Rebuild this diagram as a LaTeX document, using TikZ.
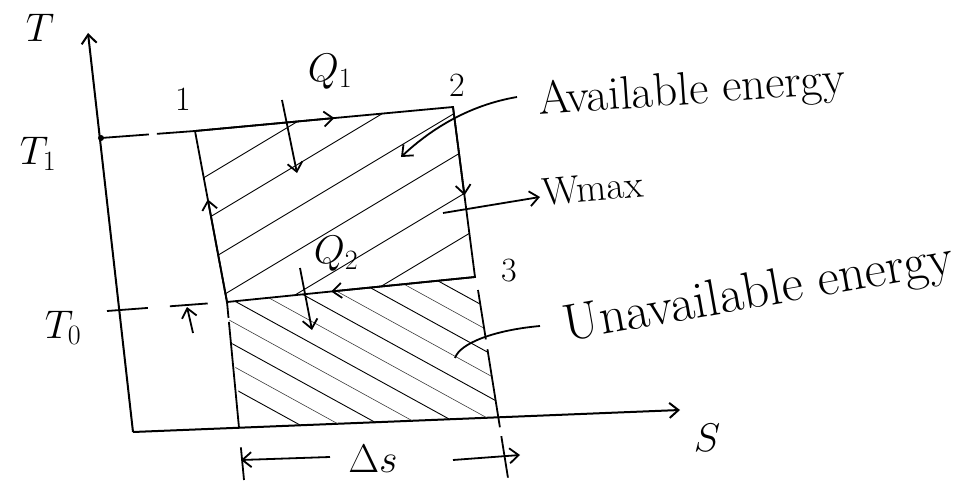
\RequirePackage{fix-cm}
\documentclass[tikz,border=0pt]{standalone}
\usepackage{amsmath}
\usetikzlibrary{calc,arrows.meta}
\definecolor{ink}{HTML}{000000}
\definecolor{inkfaint}{HTML}{3C3C3C}

\begin{document}
\begin{tikzpicture}[
    x=1pt, y=-1pt,
    >={Straight Barb[length=9pt,width=15pt]},
    axis/.style={draw=ink, line width=2pt},
    cyc/.style={draw=ink, line width=1.8pt},
    hatch/.style={draw=ink, line width=0.9pt},
    hatchfaint/.style={draw=inkfaint, line width=0.6pt},
    lbl/.style={font=\fontsize{40}{42}\selectfont, text=ink, inner sep=0pt},
    num/.style={font=\fontsize{34}{36}\selectfont, text=ink, inner sep=0pt},
    note/.style={text=ink, anchor=base, inner sep=0pt},
  ]
  \useasboundingbox (0,0) rectangle (961,484);

  % Axes
  \coordinate (o) at (133,432);
  \coordinate (ttop) at (88,33);
  \coordinate (send) at (680,410);
  \draw[axis, ->] (o) -- (ttop);
  \draw[axis, ->] (o) -- (send);
  \node[lbl] (tlab) at (40,28) {$T$};
  \node[lbl] (slab) at (707,438) {$S$};

  % States of the cycle
  \coordinate (p1) at (195,131);
  \coordinate (p2) at (453,107);
  \coordinate (p3) at (475,277);
  \coordinate (p4) at (227,302);
  \coordinate (p3b) at (498,417);
  \coordinate (p4b) at (243,428);

  % Hatching: available part (above T0)
  \begin{scope}
    \clip (p1) -- (p2) -- (p3) -- (p4) -- cycle;
    \foreach \c in {300,343,...,520}
      \draw[hatch] (150,{\c-0.6*150}) -- (520,{\c-0.6*520});
  \end{scope}

  % Hatching: unavailable part (below T0)
  \begin{scope}
    \clip (p4) -- (p3) -- (p3b) -- (p4b) -- cycle;
    \foreach \c in {40,84,...,260}
      \draw[hatch] (200,{0.55*200+\c}) -- (520,{0.55*520+\c});
    \foreach \c in {62,106,...,260}
      \draw[hatchfaint] (200,{0.55*200+\c}) -- (520,{0.55*520+\c});
  \end{scope}

  % Cycle 1-2-3-4
  \draw[cyc] (p1) -- (p2) -- (p3) -- (p4) -- cycle;
  \draw[cyc, ->] (p1) -- ($(p1)!0.54!(p2)$);
  \draw[cyc, ->] (p2) -- ($(p2)!0.52!(p3)$);
  \draw[cyc, ->] (p3) -- ($(p3)!0.58!(p4)$);
  \draw[cyc, ->] (p4) -- ($(p4)!0.60!(p1)$);
  \node[num] (s1) at (183,100) {$1$};
  \node[num] (s2) at (457,86) {$2$};
  \node[num] (s3) at (509,271) {$3$};

  % Temperature levels
  \coordinate (t1) at (101,138);
  \fill[ink] (t1) circle (3pt);
  \draw[cyc, dash pattern=on 48pt off 8pt] (t1) -- (p1);
  \node[lbl] (tonelab) at (38,154) {$T_1$};
  \draw[cyc, dash pattern=on 41pt off 22pt on 38pt off 30pt] (107,311) -- (p4);
  \draw[cyc, ->] (193,333) -- (187,307);
  \node[lbl] (tzerolab) at (63,328) {$T_0$};

  % Projections down to the S axis
  \draw[cyc, dash pattern=on 16pt off 4pt on 107pt off 19pt on 40pt] (p4) -- (244,480);
  \draw[cyc, dash pattern=on 50pt off 10pt on 79pt off 9pt on 42pt] (478,290) -- (508,478);

  % Heat in and out
  \node[lbl] (qin) at (330,72) {$Q_1$};
  \draw[cyc, ->] (282,100) -- (297,173);
  \node[lbl] (qout) at (336,254) {$Q_2$};
  \draw[cyc, ->] (300,268) -- (312,330);

  % Entropy change
  \node[lbl] (ds) at (373,459) {$\Delta s$};
  \draw[cyc, ->] (330,457) -- (241,460);
  \draw[cyc, ->] (453,460) -- (520,455);

  % Notes
  \node[note, font=\fontsize{47}{50}\selectfont, rotate=4] (avail) at (693,104) {Available energy};
  \draw[cyc, ->] (517,97) .. controls (470,105) and (432,128) .. (401,157);
  \node[note, font=\fontsize{39}{42}\selectfont, rotate=5] (wmax) at (594,201) {Wmax};
  \draw[cyc, ->] (443,213) -- (540,197);
  \node[note, font=\fontsize{52}{56}\selectfont, rotate=10] (unavail) at (761,307) {Unavailable energy};
  \draw[cyc] (540,326) .. controls (495,330) and (460,343) .. (455,358);
\end{tikzpicture}
\end{document}
